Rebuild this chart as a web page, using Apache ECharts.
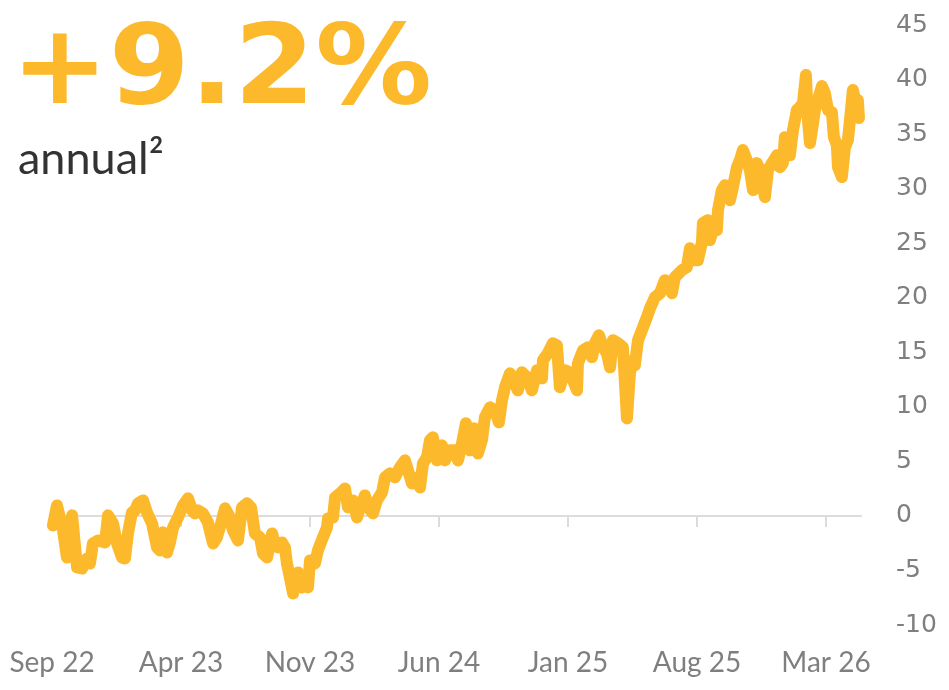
<!DOCTYPE html>
<html>
<head>
<meta charset="utf-8">
<title>+9.2% annual</title>
<script src="https://cdn.jsdelivr.net/npm/echarts@6/dist/echarts.min.js"></script>
<style>
  html, body { margin: 0; padding: 0; background: #fff; }
  #main { width: 949px; height: 690px; }
</style>
</head>
<body>
<div id="main"></div>
<script>
// x labels, one every 7 months starting Sep 22
var tickLabels = ['Sep 22', 'Apr 23', 'Nov 23', 'Jun 24', 'Jan 25', 'Aug 25', 'Mar 26'];
var tickMonths = [0, 7, 14, 21, 28, 35, 42];

// months since Sep 2022
var months = [
  0.05, 0.27, 0.60, 0.81, 1.09, 1.36, 1.63, 1.90, 2.06, 2.22, 2.50, 2.88, 3.04, 3.31, 3.53, 3.80, 3.96,
  4.12, 4.34, 4.50, 4.67, 4.94, 5.15, 5.43, 5.70, 5.86, 6.02, 6.24, 6.40, 6.57, 6.84, 7.11, 7.38, 7.60,
  7.76, 7.92, 8.19, 8.46, 8.74, 8.95, 9.22, 9.39, 9.60, 9.82, 10.09, 10.31, 10.58, 10.80, 11.01, 11.29,
  11.45, 11.67, 11.94, 12.10, 12.26, 12.48, 12.64, 12.75, 12.91, 13.08, 13.18, 13.35, 13.56, 13.73, 13.89,
  14.00, 14.27, 14.43, 14.70, 14.92, 14.98, 15.25, 15.36, 15.63, 15.90, 16.06, 16.33, 16.55, 16.71, 16.98,
  17.15, 17.42, 17.63, 17.91, 18.07, 18.34, 18.61, 18.88, 19.15, 19.32, 19.53, 19.80, 19.97, 20.13, 20.35,
  20.51, 20.67, 20.89, 21.16, 21.32, 21.60, 21.87, 22.03, 22.25, 22.46, 22.68, 22.90, 23.11, 23.33, 23.49,
  23.77, 24.04, 24.25, 24.42, 24.58, 24.85, 25.01, 25.28, 25.50, 25.77, 26.04, 26.32, 26.59, 26.64, 26.91,
  27.18, 27.40, 27.56, 27.84, 28.11, 28.27, 28.49, 28.54, 28.81, 29.08, 29.30, 29.46, 29.68, 29.90, 30.11,
  30.28, 30.44, 30.71, 30.98, 31.20, 31.36, 31.52, 31.63, 31.80, 32.01, 32.28, 32.45, 32.72, 32.99, 33.26,
  33.64, 33.80, 34.18, 34.45, 34.62, 34.89, 35.05, 35.27, 35.32, 35.59, 35.70, 35.87, 36.08, 36.14, 36.35,
  36.52, 36.68, 36.79, 36.95, 37.17, 37.33, 37.49, 37.71, 37.87, 38.04, 38.25, 38.42, 38.69, 38.85, 39.07,
  39.34, 39.50, 39.66, 39.77, 39.94, 40.04, 40.21, 40.42, 40.59, 40.75, 40.91, 41.02, 41.13, 41.24, 41.40,
  41.56, 41.78, 41.94, 42.11, 42.32, 42.43, 42.59, 42.65, 42.86, 43.03, 43.19, 43.30, 43.46, 43.62, 43.73,
  43.79
];

// cumulative return, %
var returns = [
  -0.87, 0.96, -1.33, -3.81, 0.05, -4.72, -4.82, -3.90, -4.36, -2.52, -2.25, -2.43, 0.05, -0.69, -2.52, -3.81, -3.90,
  -1.61, 0.32, 0.50, 1.15, 1.42, 0.32, -0.69, -2.89, -3.17, -1.51, -3.35, -2.43, -1.06, -0.14, 0.96, 1.61, 0.50,
  0.23, 0.50, 0.23, -0.60, -2.52, -1.97, -0.41, 0.69, 0.05, -1.33, -2.25, 0.78, 1.15, 0.78, -1.61, -1.97,
  -3.44, -3.81, -1.61, -2.52, -2.89, -2.43, -2.89, -4.36, -5.64, -7.11, -5.92, -5.18, -6.56, -6.19, -6.56,
  -4.08, -4.36, -3.17, -1.97, -1.06, -0.23, -0.14, 1.70, 2.06, 2.52, 0.78, 1.42, -0.14, 0.78, 1.88,
  0.78, 0.23, 1.42, 2.16, 3.53, 3.90, 3.53, 4.45, 5.09, 4.17, 2.98, 3.53, 2.61, 4.82, 5.37,
  6.93, 7.20, 5.09, 6.47, 5.09, 6.01, 6.01, 5.09, 6.65, 8.49, 6.01, 8.03, 5.73, 6.93, 9.04,
  9.95, 9.68, 8.58, 10.60, 11.79, 13.07, 12.61, 11.51, 13.17, 12.71, 11.51, 13.35, 12.61, 14.27, 14.91,
  15.83, 15.64, 11.79, 13.35, 13.17, 12.43, 11.51, 13.99, 15.18, 15.46, 14.54, 15.83, 16.56, 15.46, 14.91,
  13.62, 16.10, 15.83, 15.46, 8.94, 13.07, 14.27, 13.81, 16.10, 17.02, 18.21, 19.04, 20.05, 20.41, 21.61,
  20.41, 21.88, 22.52, 22.80, 24.54, 23.44, 23.44, 25.09, 26.83, 27.11, 25.28, 26.19, 26.19, 28.03, 29.86,
  30.32, 30.14, 28.94, 30.14, 31.97, 32.61, 33.53, 32.61, 31.70, 29.86, 32.34, 31.70, 29.22, 31.70, 32.34,
  33.07, 31.97, 32.34, 34.72, 34.45, 33.07, 35.37, 37.20, 37.48, 37.84, 40.41, 36.28, 34.17, 35.37, 37.20,
  38.12, 39.40, 38.76, 37.20, 37.02, 34.72, 33.99, 31.97, 31.06, 33.81, 34.45, 36.28, 39.04, 37.84, 38.12,
  36.47
];

var yellow = '#fdb92c';
var grey = '#7f7f7f';

var lineData = months.map(function (m, i) { return [m, returns[i]]; });

var myChart = echarts.init(document.getElementById('main'));

var option = {
    animation: false,
    backgroundColor: '#fff',
    graphic: [
        {
            type: 'text',
            left: 11,
            top: 19,
            scaleX: 1.06,
            style: {
                text: '+9.2%',
                fill: yellow,
                font: '900 110px "DejaVu Sans"'
            }
        },
        {
            type: 'text',
            left: 18,
            top: 137,
            style: {
                text: 'annual\u00b2',
                fill: '#333',
                font: '45px Lato'
            }
        }
    ],
    grid: {
        left: 52,
        right: 88,
        top: 25,
        bottom: 65
    },
    xAxis: [
        {
            // bottom labels
            type: 'value',
            min: 0,
            max: 43.9,
            axisLine: { show: false, onZero: false },
            axisTick: { show: false },
            splitLine: { show: false },
            axisLabel: {
                customValues: tickMonths,
                margin: 24,
                color: grey,
                fontSize: 28,
                fontFamily: 'Lato',
                formatter: function (v) { return tickLabels[Math.round(v / 7)]; }
            }
        },
        {
            // zero line with ticks
            type: 'value',
            min: 0,
            max: 43.9,
            axisLine: { show: true, onZero: true, lineStyle: { color: '#dcdcdc', width: 2 } },
            axisTick: {
                show: true,
                inside: true,
                length: 11,
                customValues: tickMonths,
                lineStyle: { color: '#dcdcdc', width: 2 }
            },
            axisLabel: { show: false },
            splitLine: { show: false }
        }
    ],
    yAxis: {
        type: 'value',
        position: 'right',
        min: -10,
        max: 45,
        interval: 5,
        axisLine: { show: false },
        axisTick: { show: false },
        splitLine: { show: false },
        axisLabel: {
            margin: 35,
            color: grey,
            fontSize: 25,
            fontFamily: 'DejaVu Sans'
        }
    },
    series: [{
        type: 'line',
        xAxisIndex: 0,
        data: lineData,
        showSymbol: false,
        lineStyle: { color: yellow, width: 12, cap: 'round', join: 'round' },
        z: 5
    }]
};

myChart.setOption(option);
</script>
</body>
</html>
